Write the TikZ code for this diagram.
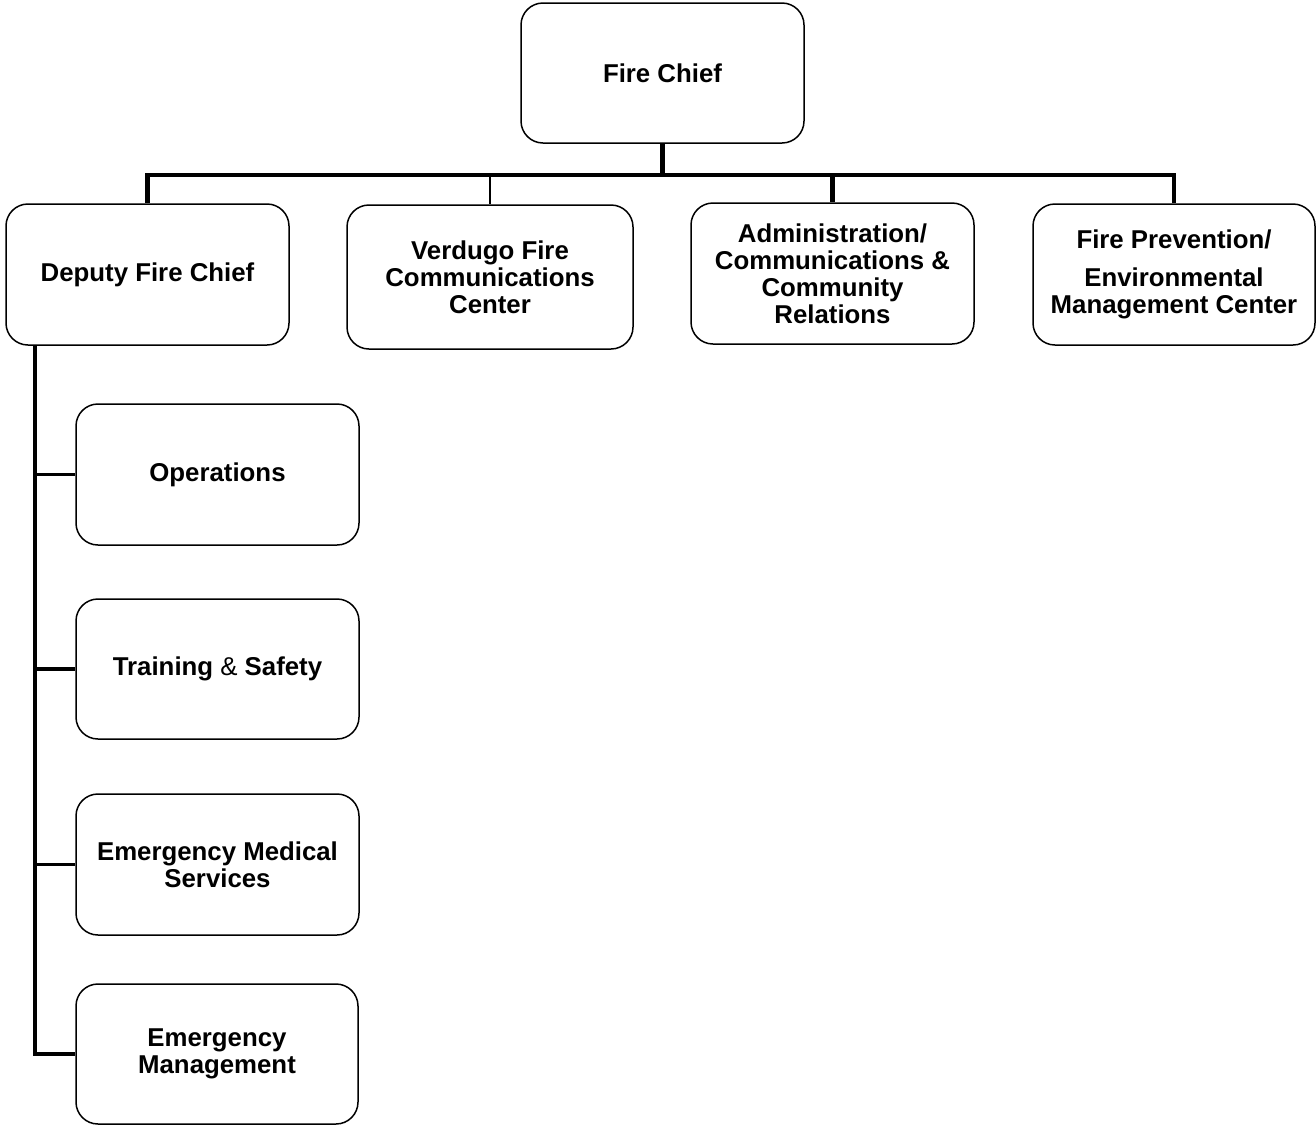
\documentclass[tikz,border=0pt]{standalone}
\usepackage{fontspec}
\setmainfont{Liberation Sans}
\begin{document}
\begin{tikzpicture}[x=1pt,y=-1pt,
  box/.style={draw=black,line width=1.5pt,rounded corners=22pt,align=center,
    font=\fontsize{25.8}{27}\selectfont\bfseries,inner sep=0pt,
    minimum width=283pt,minimum height=141pt},
  thickln/.style={line width=4.5pt,line join=miter},
  midln/.style={line width=3.2pt},
  thinln/.style={line width=2.2pt}]
\useasboundingbox (0,0) rectangle (1316,1125);
\node[box,minimum height=140pt] (chief) at (662.5,73) {Fire Chief};
\node[box] (dep) at (147.5,274.5) {Deputy Fire Chief};
\node[box,minimum width=286pt,minimum height=144pt] (verd) at (490,277) {Verdugo Fire\\Communications\\Center};
\node[box] (admin) at (832.5,273.5) {Administration/\\Communications \&\\Community\\Relations};
\node[box,minimum width=282pt] (prev) at (1174,274.5) {Fire Prevention/\\[11pt]Environmental\\Management Center};
\node[box] (ops) at (217.5,474.5) {Operations};
\node[box,minimum height=140pt] (train) at (217.5,669) {Training {\mdseries\&} Safety};
\node[box] (ems) at (217.5,864.5) {Emergency Medical\\Services};
\node[box,minimum width=282pt,minimum height=140pt] (em) at (217,1054) {Emergency\\Management};
\coordinate (bar) at (0,175);
\coordinate (spine) at (35,0);
% top connectors
\draw[thickln] (chief.south) -- (chief.south |- bar);
\draw[thickln] (dep.north) -- (dep.north |- bar) -- (admin.north |- bar) -- (admin.north);
\draw[midln] (admin.north |- bar) -- (prev.north |- bar) -- (prev.north);
\draw[thinln] (verd.north |- bar) -- (verd.north);
% left spine
\draw[thickln] (dep.south -| spine) -- (em.west -| spine) -- (em.west);
\draw[midln] (spine |- ops.west) -- (ops.west);
\draw[midln] (spine |- train.west) -- (train.west);
\draw[midln] (spine |- ems.west) -- (ems.west);
\end{tikzpicture}
\end{document}
